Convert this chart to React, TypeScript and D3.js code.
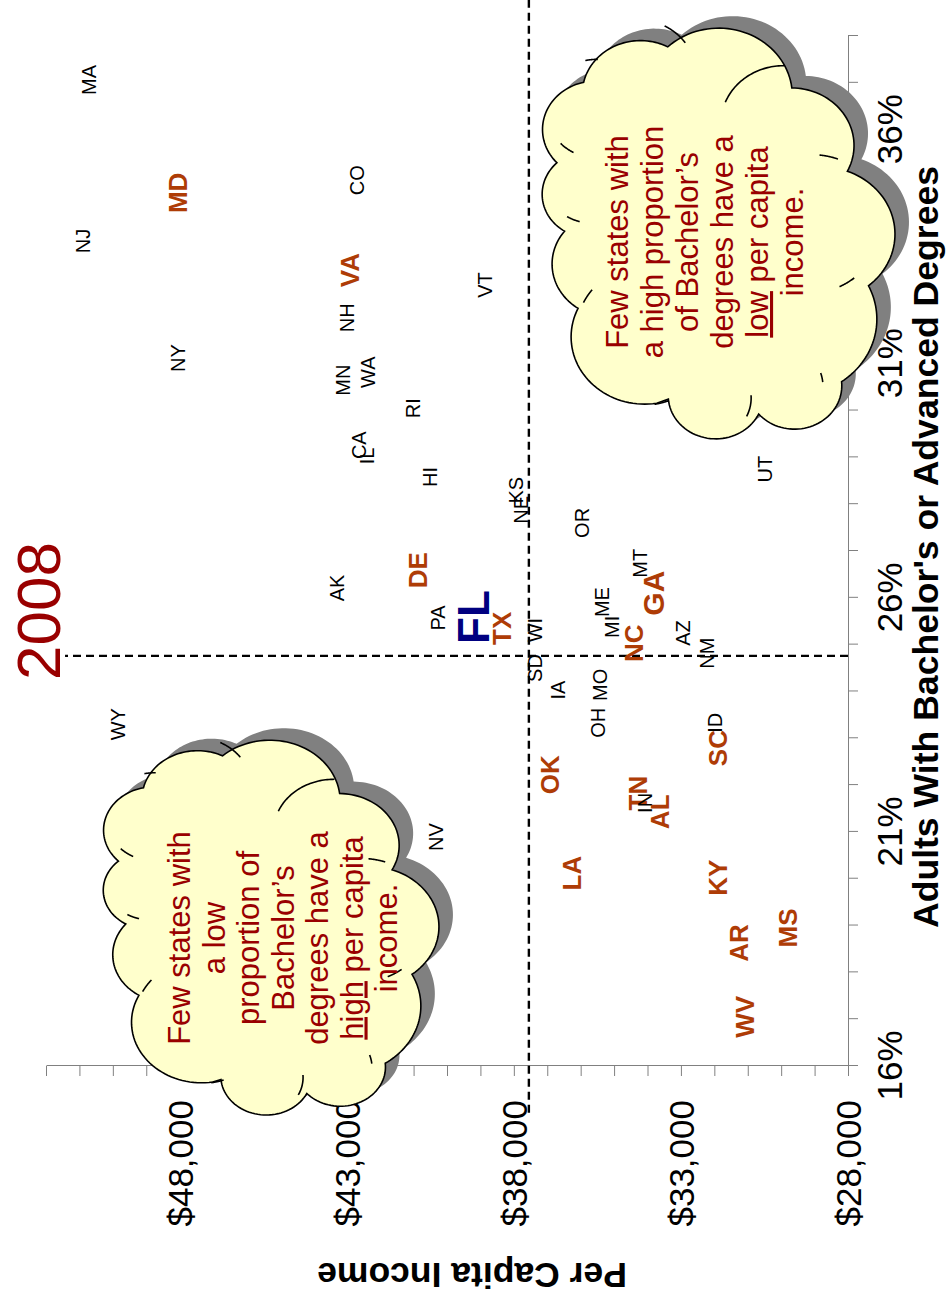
import { useEffect, useRef } from 'react';
import * as d3 from 'd3';

// state labels
const STATES = ['MA', 'MD', 'NJ', 'CO', 'VA', 'NH', 'VT', 'NY', 'MN', 'WA', 'RI', 'CA', 'IL', 'HI', 'UT', 'KS', 'NE', 'OR', 'MT', 'DE', 'AK', 'GA', 'ME', 'FL', 'PA', 'MI', 'TX', 'WI', 'AZ', 'NC', 'NM', 'SD', 'MO', 'IA', 'OH', 'ID', 'SC', 'WY', 'OK', 'TN', 'IN', 'AL', 'NV', 'LA', 'KY', 'AR', 'MS', 'WV'];
const BACHELORS = [37.06, 34.65, 33.62, 34.92, 33.0, 31.98, 32.68, 31.12, 30.65, 30.82, 30.05, 29.26, 29.03, 28.58, 28.75, 28.3, 27.88, 27.6, 26.74, 26.59, 26.21, 26.1, 25.91, 25.59, 25.57, 25.38, 25.35, 25.31, 25.25, 25.03, 24.82, 24.5, 24.14, 24.03, 23.33, 23.33, 22.79, 23.3, 22.22, 21.83, 21.62, 21.43, 20.89, 20.12, 20.02, 18.63, 18.95, 17.05];
const INCOME = [50710, 48050, 50890, 42690, 42900, 42990, 38860, 48050, 43110, 42360, 41015, 42630, 42390, 40510, 30480, 37930, 37780, 35960, 34220, 40870, 43290, 33830, 35360, 39220, 40270, 35060, 38350, 37365, 32940, 34400, 32220, 37365, 35420, 36680, 35480, 31980, 31890, 49840, 36920, 34310, 34070, 33630, 40330, 36260, 31890, 31260, 29800, 31080];
const SOUTH = ['MD', 'VA', 'DE', 'TX', 'OK', 'LA', 'TN', 'AL', 'SC', 'KY', 'AR', 'WV', 'MS', 'NC', 'GA'];
const FOCUS = 'FL';

const MEAN_BACHELORS = 24.76;
const MEAN_INCOME = 37550;

const PCT_LABELS = [16, 21, 26, 31, 36];
const INCOME_LABELS = [28000, 33000, 38000, 43000, 48000];

const NOTE_HIGH = [[['Few states with']], [['a high proportion']], [['of Bachelor’s']], [['degrees have a']], [['low', true], [' per capita']], [['income.']]] as [string, boolean?][][];
const NOTE_LOW = [[['Few states with']], [['a low']], [['proportion of']], [['Bachelor’s']], [['degrees have a']], [['high', true], [' per capita']], [['income.']]] as [string, boolean?][][];

const W = 947;
const H = 1301;
const FONT = '"Liberation Sans", Arial, Helvetica, sans-serif';
const DARK_RED = '#990000';
const RUST = '#AE3C06';

// chart is laid out unrotated, then turned a quarter left
const x = d3.scaleLinear().domain([16, 38]).range([235, 1265]);
const y = d3.scaleLinear().domain([28000, 52000]).range([848, 46]);

// office "cloud" preset, 43200 units square
const CLOUD_START = [3900, 14370];
const CLOUD_ARCS = [
  [6753, 9190, -11429249, 7426832],
  [5333, 7267, -8646143, 5396714],
  [4365, 5945, -8748475, 5983381],
  [4857, 6595, -7859164, 7034504],
  [5333, 7273, -4722533, 6541615],
  [6775, 9220, -2776035, 7816140],
  [5785, 7867, 37501, 6842000],
  [6752, 9215, 1347096, 6910353],
  [7720, 10543, 3974558, 4542661],
  [4360, 5918, -16496525, 8804134],
  [4345, 5945, -14809710, 9151131],
];
const CLOUD_CURLS = [
  [4693, 26177, 4345, 5945, 5204520, 1585770],
  [6928, 34899, 4360, 5918, 4416628, 686848],
  [16478, 39090, 6752, 9215, 8257449, 844866],
  [28827, 34751, 6752, 9215, 387196, 959901],
  [34129, 22954, 5785, 7867, -4217541, 4255042],
  [41798, 15354, 5333, 7273, 1819082, 1665090],
  [38324, 5426, 4857, 6595, -824660, 891534],
  [29078, 3952, 4857, 6595, -8950887, 1091722],
  [22141, 4720, 4365, 5945, -9809656, 1061181],
  [14000, 5192, 6753, 9190, -4002417, 739161],
  [4127, 15789, 6753, 9190, 9459261, 711490],
];

type Box = { x: number; y: number; w: number; h: number };

function arcTo(pts: number[][], p: number[], rx: number, ry: number, st: number, sw: number) {
  const a0 = (st / 60000) * Math.PI / 180;
  const a1 = ((st + sw) / 60000) * Math.PI / 180;
  const t0 = Math.atan2(rx * Math.sin(a0), ry * Math.cos(a0));
  let t1 = Math.atan2(rx * Math.sin(a1), ry * Math.cos(a1));
  const da = a1 - a0;
  while (t1 - t0 - da > Math.PI) t1 -= 2 * Math.PI;
  while (t1 - t0 - da < -Math.PI) t1 += 2 * Math.PI;
  const cx = p[0] - rx * Math.cos(t0);
  const cy = p[1] - ry * Math.sin(t0);
  const n = 40;
  for (let i = 1; i <= n; i++) {
    const t = t0 + (t1 - t0) * i / n;
    pts.push([cx + rx * Math.cos(t), cy + ry * Math.sin(t)]);
  }
  return [cx + rx * Math.cos(t1), cy + ry * Math.sin(t1)];
}

function cloudOutline(b: Box) {
  const sx = b.w / 43200, sy = b.h / 43200;
  let p = [b.x + CLOUD_START[0] * sx, b.y + CLOUD_START[1] * sy];
  const pts = [p];
  CLOUD_ARCS.forEach(([wr, hr, st, sw]) => {
    p = arcTo(pts, p, wr * sx, hr * sy, st, sw);
  });
  return d3.line()(pts as [number, number][]) + 'Z';
}

function cloudCurls(b: Box) {
  const sx = b.w / 43200, sy = b.h / 43200;
  return CLOUD_CURLS.map(([px, py, wr, hr, st, sw]) => {
    const p = [b.x + px * sx, b.y + py * sy];
    const pts = [p];
    arcTo(pts, p, wr * sx, hr * sy, st, sw);
    return d3.line()(pts as [number, number][]);
  }).join(' ');
}

function Cloud({ box, lines, cx, top, lh }: { box: Box; lines: [string, boolean?][][]; cx: number; top: number; lh: number }) {
  const outline = cloudOutline(box);
  return (
    <g>
      <path d={outline} transform="translate(12,14)" fill="#808080" />
      <path d={outline} fill="#FFFFCC" stroke="#000" strokeWidth={1.6} />
      <path d={cloudCurls(box)} fill="none" stroke="#000" strokeWidth={1.6} />
      <text fontFamily={FONT} fontSize={31} fill={DARK_RED} textAnchor="middle">
        {lines.map((segs, i) => (
          <tspan key={i} x={cx} y={top + i * lh}>
            {segs.map(([t, u], j) => (
              <tspan key={j} textDecoration={u ? 'underline' : undefined}>{t}</tspan>
            ))}
          </tspan>
        ))}
      </text>
    </g>
  );
}

export default function App() {
  const xAxisRef = useRef<SVGGElement>(null);
  const yAxisRef = useRef<SVGGElement>(null);

  useEffect(() => {
    const xAxis = d3.axisBottom(x)
        .tickValues(d3.range(16, 39))
        .tickSize(10)
        .tickSizeOuter(0)
        .tickFormat(d => (PCT_LABELS.includes(+d) ? `${d}%` : ''));
    const gx = d3.select(xAxisRef.current!).call(xAxis);
    gx.select('.domain').attr('stroke', '#808080');
    gx.selectAll('.tick line').attr('stroke', '#808080');
    gx.selectAll('.tick text')
        .attr('font-family', FONT)
        .attr('font-size', 35)
        .attr('fill', '#000')
        .attr('y', 54)
        .attr('dy', 0);

    const yAxis = d3.axisLeft(y)
        .tickValues(d3.range(28000, 52001, 1000))
        .tickSize(10)
        .tickSizeOuter(0)
        .tickPadding(24)
        .tickFormat(d => (INCOME_LABELS.includes(+d) ? d3.format('$,')(+d) : ''));
    const gy = d3.select(yAxisRef.current!).call(yAxis);
    gy.select('.domain').attr('stroke', '#808080');
    gy.selectAll('.tick line').attr('stroke', '#808080');
    gy.selectAll('.tick text')
        .attr('font-family', FONT)
        .attr('font-size', 35)
        .attr('fill', '#000')
        .attr('dy', '0.36em');
  }, []);

  const labelStyle = (s: string) => {
    if (s === FOCUS) return { size: 44, weight: 'bold', fill: '#000080' };
    if (s === 'GA') return { size: 30, weight: 'bold', fill: RUST };
    if (SOUTH.includes(s)) return { size: 26, weight: 'bold', fill: RUST };
    return { size: 20, weight: 'normal', fill: '#000' };
  };

  return (
    <svg width={W} height={H} style={{ position: 'absolute', left: 0, top: 0, background: '#fff' }}>
      <g transform={`translate(0,${H}) rotate(-90)`}>
        <g ref={xAxisRef} transform={`translate(0,${y(28000)})`} />
        <g ref={yAxisRef} transform={`translate(${x(16)},0)`} />

        <line x1={x(MEAN_BACHELORS)} x2={x(MEAN_BACHELORS)} y1={y(28000)} y2={y(51430)}
              stroke="#000" strokeWidth={2.4} strokeDasharray="8,5" />
        <line x1={x(15)} x2={x(39)} y1={y(MEAN_INCOME)} y2={y(MEAN_INCOME)}
              stroke="#000" strokeWidth={2.4} strokeDasharray="8,5" />

        {STATES.map((s, i) => {
          const st = labelStyle(s);
          return (
            <text key={s} x={x(BACHELORS[i])} y={y(INCOME[i])} dy="0.36em" textAnchor="middle"
                  fontFamily={FONT} fontSize={st.size} fontWeight={st.weight} fill={st.fill}>
              {s}
            </text>
          );
        })}

        <Cloud box={{ x: 859, y: 542, w: 430, h: 345 }} lines={NOTE_HIGH} cx={1059} top={628} lh={35} />
        <Cloud box={{ x: 184, y: 103, w: 387, h: 330 }} lines={NOTE_LOW} cx={363} top={190} lh={34.5} />

        <text x={690} y={60} textAnchor="middle" fontFamily={FONT} fontSize={62} fill={DARK_RED}>2008</text>
        <text x={754} y={938} textAnchor="middle" fontFamily={FONT} fontSize={35.6} fontWeight="bold">
          Adults With Bachelor's or Advanced Degrees
        </text>
        <text transform="translate(38,472) rotate(-90)" textAnchor="middle" fontFamily={FONT}
              fontSize={35.5} fontWeight="bold">
          Per Capita Income
        </text>
      </g>
    </svg>
  );
}
